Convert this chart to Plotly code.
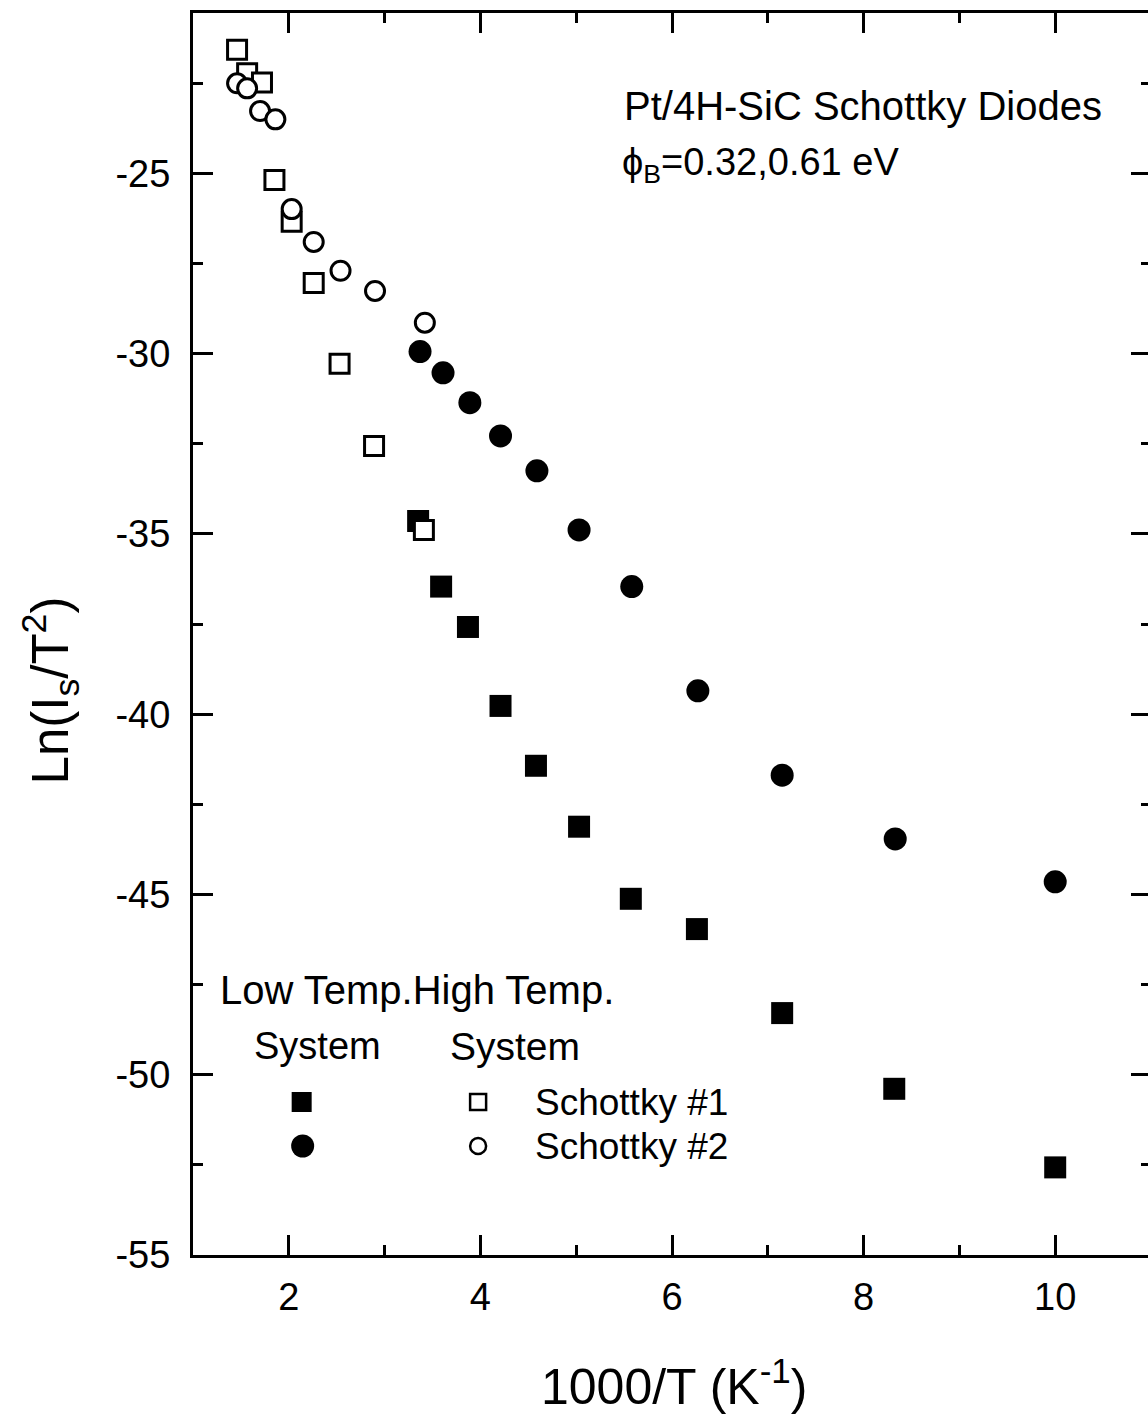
import plotly.graph_objects as go

# ---- data (x = 1000/T in 1/K, y = Ln(Is/T^2)) ----
# Low temperature system (filled markers)
low_sq_x = [3.35, 3.59, 3.87, 4.21, 4.58, 5.03, 5.57, 6.26, 7.15, 8.32, 10.0]
low_sq_y = [-34.64, -36.46, -37.58, -39.77, -41.43, -43.12, -45.12, -45.96, -48.29, -50.39, -52.57]
low_ci_x = [3.37, 3.61, 3.89, 4.21, 4.59, 5.03, 5.58, 6.27, 7.15, 8.33, 10.0]
low_ci_y = [-29.94, -30.53, -31.36, -32.28, -33.25, -34.89, -36.46, -39.35, -41.69, -43.46, -44.65]
# High temperature system (open markers)
high_sq_x = [1.46, 1.565, 1.72, 1.85, 2.03, 2.26, 2.53, 2.89, 3.41]
high_sq_y = [-21.57, -22.22, -22.48, -25.18, -26.34, -28.04, -30.28, -32.56, -34.89]
high_ci_x = [1.46, 1.565, 1.70, 1.86, 2.03, 2.26, 2.54, 2.90, 3.42]
high_ci_y = [-22.5, -22.64, -23.27, -23.5, -25.99, -26.9, -27.7, -28.26, -29.14]

x_ticks = [2, 4, 6, 8, 10]
x_minor = [1, 3, 5, 7, 9]
y_ticks = [-55, -50, -45, -40, -35, -30, -25]
y_minor = [-52.5, -47.5, -42.5, -37.5, -32.5, -27.5, -22.5]

FONT = "Liberation Sans, Arial, Helvetica, sans-serif"
W, H = 1154, 1414          # right frame edge falls just outside the 1148 px window, as in the scan
ML, MR, MT, MB = 193, 0, 13, 159
PW, PH = W - ML - MR, H - MT - MB


def px(xp):
    return (xp - ML) / PW


def py(yp):
    return (H - MB - yp) / PH


fig = go.Figure()
fig.add_trace(go.Scatter(x=low_sq_x, y=low_sq_y, mode="markers", name="Low T #1",
                         marker=dict(symbol="square", size=22, color="black", line=dict(width=0))))
fig.add_trace(go.Scatter(x=low_ci_x, y=low_ci_y, mode="markers", name="Low T #2",
                         marker=dict(symbol="circle", size=23, color="black", line=dict(width=0))))
fig.add_trace(go.Scatter(x=high_sq_x, y=high_sq_y, mode="markers", name="High T #1",
                         marker=dict(symbol="square", size=19, color="white",
                                     line=dict(width=3, color="black"))))
fig.add_trace(go.Scatter(x=high_ci_x, y=high_ci_y, mode="markers", name="High T #2",
                         marker=dict(symbol="circle", size=19, color="white",
                                     line=dict(width=3, color="black"))))

# legend glyphs (custom legend drawn on an overlay axis in plot-area fractions)
leg_x = [px(302), px(303), px(479), px(479)]
leg_y = [py(1102), py(1146), py(1102), py(1146)]
fig.add_trace(go.Scatter(x=leg_x[:1], y=leg_y[:1], xaxis="x2", yaxis="y2", mode="markers",
                         marker=dict(symbol="square", size=20, color="black")))
fig.add_trace(go.Scatter(x=leg_x[1:2], y=leg_y[1:2], xaxis="x2", yaxis="y2", mode="markers",
                         marker=dict(symbol="circle", size=23, color="black")))
fig.add_trace(go.Scatter(x=leg_x[2:3], y=leg_y[2:3], xaxis="x2", yaxis="y2", mode="markers",
                         marker=dict(symbol="square", size=16, color="white",
                                     line=dict(width=2.5, color="black"))))
fig.add_trace(go.Scatter(x=leg_x[3:4], y=leg_y[3:4], xaxis="x2", yaxis="y2", mode="markers",
                         marker=dict(symbol="circle", size=16, color="white",
                                     line=dict(width=2.5, color="black"))))

axis_common = dict(ticks="inside", ticklen=20, tickwidth=3, tickcolor="black",
                   showline=True, linewidth=3, linecolor="black", mirror="ticks",
                   showgrid=False, zeroline=False,
                   tickfont=dict(family=FONT, size=38, color="black"))

fig.update_layout(
    width=W, height=H,
    margin=dict(l=ML, r=MR, t=MT, b=MB, pad=0),
    plot_bgcolor="white", paper_bgcolor="white",
    showlegend=False,
    font=dict(family=FONT, color="black"),
    xaxis=dict(range=[1, 11.0], tickvals=x_ticks, ticktext=[str(v) for v in x_ticks],
               ticklabelstandoff=6,
               minor=dict(tickvals=x_minor, ticks="inside", ticklen=10, tickwidth=3, tickcolor="black"),
               **axis_common),
    yaxis=dict(range=[-55, -20.55], tickvals=y_ticks, ticktext=[str(v) for v in y_ticks],
               ticklabelstandoff=12,
               minor=dict(tickvals=y_minor, ticks="inside", ticklen=10, tickwidth=3, tickcolor="black"),
               **axis_common),
    xaxis2=dict(overlaying="x", range=[0, 1], visible=False),
    yaxis2=dict(overlaying="y", range=[0, 1], visible=False),
)

ann = [
    dict(text="Pt/4H-SiC Schottky Diodes", x=px(1107), y=py(106), xanchor="right", yanchor="middle", size=40),
    dict(text="\u03d5<sub>B</sub>=0.32,0.61 eV", x=px(621), y=py(165), xanchor="left", yanchor="middle", size=38),
    dict(text="Low Temp.High Temp.", x=px(218), y=py(990), xanchor="left", yanchor="middle", size=40),
    dict(text="System", x=px(252), y=py(1046), xanchor="left", yanchor="middle", size=38),
    dict(text="System", x=px(449), y=py(1046), xanchor="left", yanchor="middle", size=39),
    dict(text="Schottky #1", x=px(534), y=py(1102), xanchor="left", yanchor="middle", size=37),
    dict(text="Schottky #2", x=px(534), y=py(1146), xanchor="left", yanchor="middle", size=37),
    dict(text="1000/T (K<sup>-1</sup>)", x=px(676), y=py(1383), xanchor="center", yanchor="middle", size=50),
]
for a in ann:
    fig.add_annotation(text=a["text"], x=a["x"], y=a["y"], xref="paper", yref="paper",
                       xanchor=a["xanchor"], yanchor=a["yanchor"], showarrow=False,
                       font=dict(family=FONT, size=a["size"], color="black"))
fig.add_annotation(text="Ln(I<sub>s</sub>/T<sup>2</sup>)", x=px(50), y=py(690), xref="paper", yref="paper",
                   xanchor="center", yanchor="middle", textangle=-90, showarrow=False,
                   font=dict(family=FONT, size=51, color="black"))

fig.write_html(
    "out.html",
    config={"displayModeBar": False},
    post_script=("document.documentElement.style.overflow='hidden';"
                 "document.body.style.margin='0';document.body.style.overflow='hidden';"),
)
